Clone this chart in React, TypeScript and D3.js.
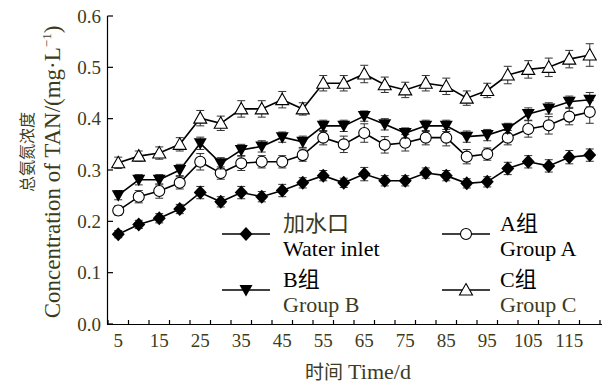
import React from "react";
import * as d3 from "d3";

const days = [5,10,15,20,25,30,35,40,45,50,55,60,65,70,75,80,85,90,95,100,105,110,115,120];
const tickLabels = [5,15,25,35,45,55,65,75,85,95,105,115];
const yTicks = [0,0.1,0.2,0.3,0.4,0.5,0.6];

const inlet = [0.175,0.194,0.206,0.224,0.256,0.238,0.256,0.248,0.26,0.275,0.289,0.275,0.292,0.279,0.279,0.294,0.289,0.274,0.277,0.303,0.316,0.308,0.325,0.329];
const inletErr = [0.007,0.008,0.009,0.009,0.012,0.01,0.012,0.01,0.012,0.01,0.01,0.009,0.013,0.01,0.01,0.01,0.01,0.009,0.01,0.012,0.012,0.012,0.013,0.012];
const groupA = [0.221,0.248,0.259,0.275,0.316,0.294,0.313,0.316,0.316,0.329,0.363,0.35,0.372,0.349,0.353,0.363,0.363,0.326,0.331,0.363,0.38,0.387,0.404,0.413];
const groupAErr = [0.009,0.012,0.014,0.012,0.016,0.012,0.014,0.012,0.012,0.012,0.014,0.016,0.018,0.016,0.016,0.014,0.016,0.014,0.012,0.014,0.016,0.017,0.016,0.022];
const groupB = [0.251,0.281,0.281,0.3,0.352,0.313,0.339,0.346,0.364,0.355,0.386,0.386,0.405,0.389,0.372,0.386,0.386,0.365,0.368,0.381,0.409,0.42,0.433,0.437];
const groupBErr = [0.009,0.01,0.01,0.011,0.012,0.011,0.011,0.011,0.01,0.011,0.011,0.011,0.01,0.011,0.01,0.011,0.011,0.011,0.011,0.01,0.012,0.011,0.011,0.014];
const groupC = [0.314,0.327,0.333,0.35,0.401,0.391,0.419,0.419,0.437,0.419,0.469,0.469,0.487,0.466,0.456,0.469,0.463,0.44,0.455,0.485,0.496,0.5,0.516,0.524];
const groupCErr = [0.011,0.01,0.012,0.013,0.015,0.014,0.016,0.016,0.016,0.012,0.015,0.015,0.017,0.015,0.015,0.015,0.016,0.014,0.014,0.017,0.017,0.018,0.017,0.022];

const OLIVE = "#3c3c1c";
const SERIF = "'Liberation Serif', 'Times New Roman', 'Noto Sans CJK SC', serif";
const CJK = "'Noto Sans CJK SC', sans-serif";

type Kind = "diamond" | "circle" | "down" | "up";

function Marker({ kind, x, y }: { kind: Kind; x: number; y: number }) {
  if (kind === "circle") return <circle cx={x} cy={y} r={5.5} fill="#fff" stroke="#000" strokeWidth={1.1} />;
  if (kind === "diamond") {
    return <path d={`M${x},${y - 7}L${x + 6.5},${y}L${x},${y + 7}L${x - 6.5},${y}Z`} fill="#000" />;
  }
  if (kind === "down") {
    return <path d={`M${x - 6.5},${y - 5}L${x + 6.5},${y - 5}L${x},${y + 6.5}Z`} fill="#000" />;
  }
  return <path d={`M${x},${y - 6.5}L${x + 6.5},${y + 5}L${x - 6.5},${y + 5}Z`} fill="#fff" stroke="#000" strokeWidth={1.1} />;
}

export default function App() {
  const W = 609, H = 385;
  const x = d3.scaleBand<number>().domain(days).range([108, 600]).paddingInner(0).paddingOuter(0);
  const y = d3.scaleLinear().domain([0, 0.6]).range([324, 16]);
  const cx = (d: number) => (x(d) as number) + x.bandwidth() / 2;
  const line = d3.line<[number, number]>().x((p) => cx(p[0])).y((p) => y(p[1]));

  const series: { vals: number[]; err: number[]; kind: Kind }[] = [
    { vals: inlet, err: inletErr, kind: "diamond" },
    { vals: groupA, err: groupAErr, kind: "circle" },
    { vals: groupB, err: groupBErr, kind: "down" },
    { vals: groupC, err: groupCErr, kind: "up" },
  ];

  const boundaries = days.map((d) => x(d) as number).concat([600]);

  const legend = [
    { kind: "diamond" as Kind, lx: 222, ly: 234, tx: 283, t1: "加水口", c1: OLIVE, t2: "Water inlet", c2: "#000" },
    { kind: "down" as Kind, lx: 222, ly: 290, tx: 283, t1: "B组", c1: "#000", t2: "Group B", c2: OLIVE },
    { kind: "circle" as Kind, lx: 442, ly: 234, tx: 500, t1: "A组", c1: "#000", t2: "Group A", c2: "#000" },
    { kind: "up" as Kind, lx: 442, ly: 290, tx: 500, t1: "C组", c1: "#000", t2: "Group C", c2: OLIVE },
  ];

  return (
    <div style={{ position: "fixed", left: 0, top: 0 }}>
      <svg width={W} height={H} style={{ display: "block", background: "#fff" }}>
        {/* axes */}
        <line x1={107.5} y1={16} x2={107.5} y2={324.5} stroke="#000" strokeWidth={1.2} />
        <line x1={107} y1={324.5} x2={602} y2={324.5} stroke="#000" strokeWidth={1.2} />
        {yTicks.map((t) => (
          <g key={t}>
            <line x1={107.5} x2={113} y1={y(t)} y2={y(t)} stroke="#000" strokeWidth={1.2} />
            <text x={101} y={y(t)} dy="0.35em" textAnchor="end" fontFamily={SERIF} fontSize={19} fill={OLIVE}>
              {t.toFixed(1)}
            </text>
          </g>
        ))}
        {boundaries.map((b, i) => (
          <line key={i} x1={b} x2={b} y1={324.5} y2={320} stroke="#000" strokeWidth={1.2} />
        ))}
        {tickLabels.map((t) => (
          <text key={t} x={cx(t)} y={347} textAnchor="middle" fontFamily={SERIF} fontSize={19} fill={OLIVE}>
            {t}
          </text>
        ))}
        {/* x title */}
        <text x={358} y={379} textAnchor="middle" fill={OLIVE}>
          <tspan fontFamily={CJK} fontSize={19}>时间</tspan>
          <tspan fontFamily={SERIF} fontSize={22} dx={5}>Time/d</tspan>
        </text>
        {/* y titles */}
        <text transform="translate(33,152) rotate(-90)" textAnchor="middle" fontFamily={CJK} fontSize={16} fill={OLIVE}>
          总氨氮浓度
        </text>
        <text transform="translate(60,172) rotate(-90)" textAnchor="middle" fontFamily={SERIF} fontSize={23} fill={OLIVE}>
          Concentration of TAN/(mg·L
          <tspan fontSize={13} dy={-9}>−1</tspan>
          <tspan dy={9}>)</tspan>
        </text>
        {/* series */}
        {series.map((s, si) => (
          <g key={si}>
            <path d={line(days.map((d, i) => [d, s.vals[i]] as [number, number])) || ""} fill="none" stroke="#000" strokeWidth={1.6} />
            {days.map((d, i) => {
              const X = cx(d), y1 = y(s.vals[i] + s.err[i]), y2 = y(s.vals[i] - s.err[i]);
              return (
                <g key={d} stroke="#333" strokeWidth={1}>
                  <line x1={X} x2={X} y1={y1} y2={y2} />
                  <line x1={X - 4} x2={X + 4} y1={y1} y2={y1} />
                  <line x1={X - 4} x2={X + 4} y1={y2} y2={y2} />
                </g>
              );
            })}
            {days.map((d, i) => (
              <Marker key={d} kind={s.kind} x={cx(d)} y={y(s.vals[i])} />
            ))}
          </g>
        ))}
        {/* legend */}
        {legend.map((l, i) => (
          <g key={i}>
            <line x1={l.lx} x2={l.lx + 48} y1={l.ly} y2={l.ly} stroke="#000" strokeWidth={1.6} />
            <Marker kind={l.kind} x={l.lx + 24} y={l.ly} />
            <text x={l.tx} y={l.ly - 11} dy="0.35em" fontFamily={SERIF} fontSize={22} fill={l.c1}>{l.t1}</text>
            <text x={l.tx} y={l.ly + 14} dy="0.35em" fontFamily={SERIF} fontSize={22} fill={l.c2}>{l.t2}</text>
          </g>
        ))}
      </svg>
    </div>
  );
}
